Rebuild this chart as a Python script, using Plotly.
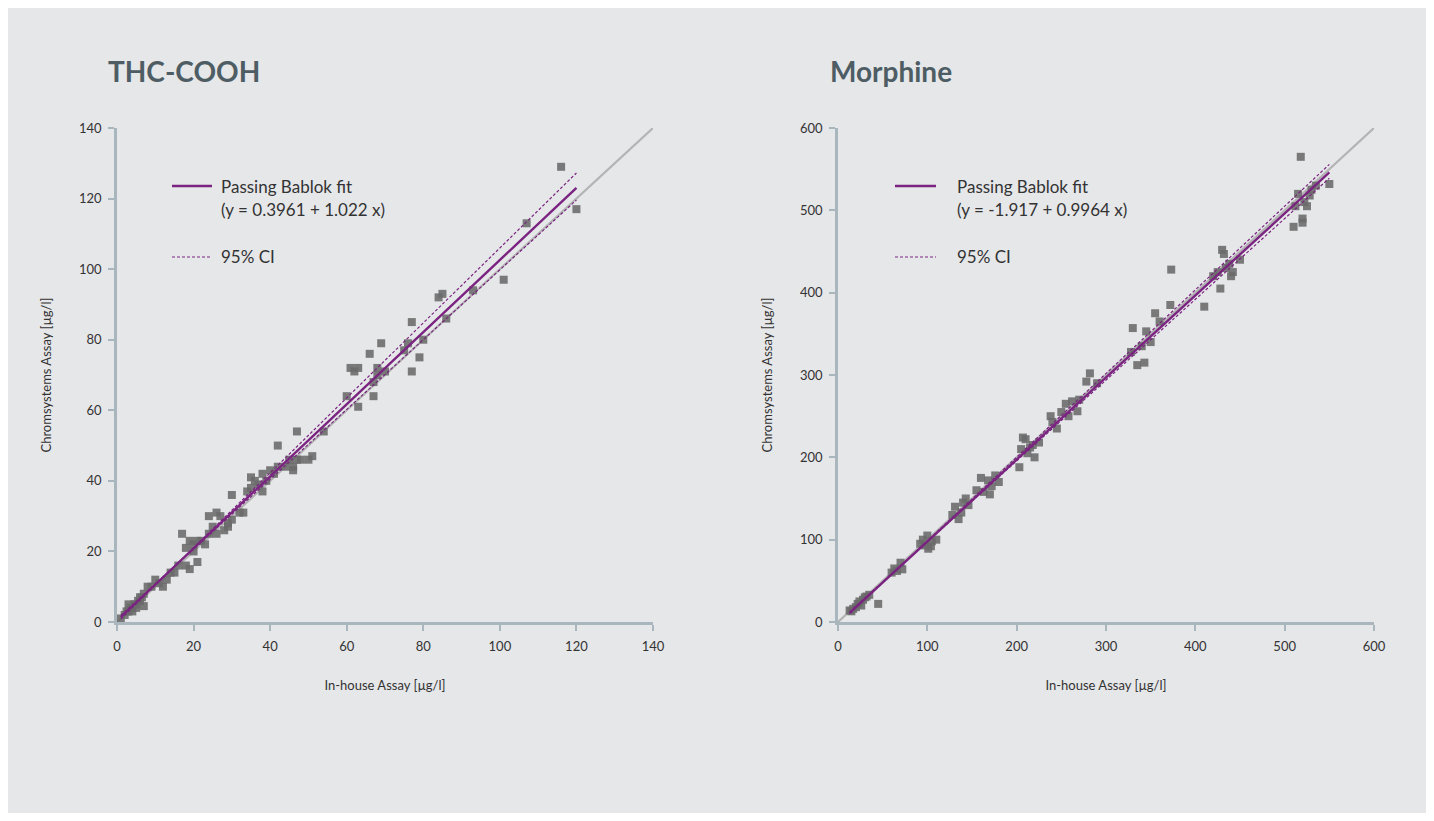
import numpy as np
import plotly.graph_objects as go

# ---------------- data ----------------
thc_x = [1, 2, 2.5, 3, 3, 3.5, 4, 4, 4.5, 5, 5, 5.5, 6, 6, 6.5, 7, 7, 8, 9, 10, 11, 12, 13, 14, 15, 16,
         17, 18, 18, 19, 19, 20, 20, 21, 21, 22, 23, 24, 24, 25, 26, 26, 27, 28, 29, 29, 30, 30, 32, 33,
         34, 35, 35, 36, 37, 38, 38, 39, 40, 41, 42, 42, 44, 45, 46, 46, 47, 47, 48, 50, 51, 54,
         60, 61, 62, 63, 63, 66, 67, 67, 68, 68, 69, 70, 75, 76, 77, 77, 79, 80, 84, 85, 86, 93,
         101, 107, 116, 120]
thc_y = [1, 2, 3, 5, 3, 4, 4, 3, 5, 5, 4, 6, 6, 7, 7, 4.5, 8, 10, 10, 12, 11, 10, 12, 14, 14, 16,
         25, 16, 21, 23, 15, 20, 22, 17, 23, 23, 22, 30, 25, 27, 31, 25, 30, 26, 27, 28, 36, 29, 31, 31,
         37, 38, 41, 40, 39, 42, 37, 40, 43, 42, 50, 44, 44, 46, 44, 43, 46, 54, 46, 46, 47, 54,
         64, 72, 71, 72, 61, 76, 68, 64, 70, 72, 79, 71, 77, 79, 85, 71, 75, 80, 92, 93, 86, 94,
         97, 113, 129, 117]

mor_x = [13, 15, 17, 20, 22, 24, 26, 28, 30, 32, 35, 45,
         60, 63, 66, 70, 72,
         92, 95, 97, 100, 101, 104, 105, 110,
         128, 131, 135, 138, 140, 143, 146,
         155, 160, 163, 168, 170, 172, 176, 180,
         203, 205, 207, 210, 212, 215, 218, 220, 225,
         238, 240, 245, 250, 255, 258, 262, 268, 270,
         278, 282, 290,
         328, 330, 335, 340, 343, 345, 350, 355, 360,
         372, 373,
         410, 420, 425, 428, 430, 432, 434, 438, 440, 442, 450,
         510, 512, 515, 518, 520, 520, 522, 525, 528, 530, 535, 550]
mor_y = [14, 13, 16, 18, 22, 25, 20, 27, 30, 31, 33, 22,
         60, 65, 62, 72, 64,
         95, 100, 93, 105, 89, 92, 98, 100,
         130, 140, 125, 133, 145, 150, 142,
         160, 175, 158, 172, 155, 165, 178, 170,
         188, 210, 224, 222, 205, 212, 215, 200, 218,
         250, 243, 235, 255, 265, 250, 268, 256, 270,
         292, 302, 290,
         328, 357, 312, 335, 315, 353, 340, 375, 365,
         385, 428,
         383, 420, 425, 405, 452, 447, 430, 435, 420, 425, 440,
         480, 505, 520, 565, 490, 485, 510, 505, 518, 525, 530, 532]

# Passing-Bablok fit coefficients (intercept, slope) and CI bounds
thc_fit = (0.3961, 1.022)
thc_ci_hi = (-0.2, 1.062)
thc_ci_lo = (0.9, 0.989)
mor_fit = (-1.917, 0.9964)
mor_ci_hi = (-3.0, 1.016)
mor_ci_lo = (-0.5, 0.981)

thc_ticks = [0, 20, 40, 60, 80, 100, 120, 140]
mor_ticks = [0, 100, 200, 300, 400, 500, 600]
thc_label = "(y = 0.3961 + 1.022 x)"
mor_label = "(y = -1.917 + 0.9964 x)"

# ---------------- style ----------------
BG = "#e6e7e9"
AX = "#a9b6be"
PURPLE = "#7a2380"
GREY_LINE = "#b4b4b4"
MARKER = "#6a6a6a"
FONT = "Lato"

fig = go.Figure()

def add_panel(xs, ys, fit, hi, lo, amax, xa, ya):
    fig.add_trace(go.Scatter(x=[0, amax], y=[0, amax], mode="lines",
                             line=dict(color=GREY_LINE, width=2.2),
                             xaxis=xa, yaxis=ya, showlegend=False, hoverinfo="skip"))
    fig.add_trace(go.Scatter(x=xs, y=ys, mode="markers",
                             marker=dict(symbol="square", size=8, color=MARKER, opacity=0.88,
                                         line=dict(width=0)),
                             xaxis=xa, yaxis=ya, showlegend=False))
    xr = np.array([min(xs), max(xs)], dtype=float)
    for (a, b), dash, w in [(hi, "3px,2px", 1.2), (lo, "3px,2px", 1.2), (fit, "solid", 2.4)]:
        fig.add_trace(go.Scatter(x=xr, y=a + b * xr, mode="lines",
                                 line=dict(color=PURPLE, width=w, dash=dash),
                                 xaxis=xa, yaxis=ya, showlegend=False, hoverinfo="skip"))

add_panel(thc_x, thc_y, thc_fit, thc_ci_hi, thc_ci_lo, 140, "x", "y")
add_panel(mor_x, mor_y, mor_fit, mor_ci_hi, mor_ci_lo, 600, "x2", "y2")

# page body has an 8px margin; compensate
OFF = 8
W, H = 1434 - 2 * OFF, 821 - 2 * OFF
L, T = 117 - OFF, 128 - OFF
pw, ph = 1257, 494
R = W - L - pw
B = H - T - ph

def axis_common():
    return dict(showgrid=False, zeroline=False, showline=True, linecolor=AX, linewidth=2.5,
                ticks="outside", ticklen=6, tickwidth=2, tickcolor=AX,
                tickfont=dict(family=FONT, size=13, color="#333333"),
                title_font=dict(family=FONT, size=13, color="#333333"))

xa = axis_common(); xa.update(domain=[0, 536 / pw], range=[0, 140], tickvals=thc_ticks,
                              title_text="In-house Assay [µg/l]", title_standoff=28,
                              anchor="y", ticklabelstandoff=5)
ya = axis_common(); ya.update(domain=[0, 1], range=[0, 140], tickvals=thc_ticks,
                              title_text="Chromsystems Assay [µg/l]", title_standoff=25,
                              anchor="x", ticklabelstandoff=4)
xa2 = axis_common(); xa2.update(domain=[(838 - 117) / pw, 1], range=[0, 600], tickvals=mor_ticks,
                                title_text="In-house Assay [µg/l]", title_standoff=28,
                                anchor="y2", ticklabelstandoff=5)
ya2 = axis_common(); ya2.update(domain=[0, 1], range=[0, 600], tickvals=mor_ticks,
                                title_text="Chromsystems Assay [µg/l]", title_standoff=25,
                                anchor="x2", ticklabelstandoff=4)

def py(p):  # reference pixel y -> paper y
    return (622 - p) / ph

def px(p):  # reference pixel x -> paper x
    return (p - 117) / pw

shapes = []
annotations = []

def legend(xref, yref, lx0, lx1, tx, label):
    shapes.append(dict(type="line", xref=xref, yref=yref, x0=lx0, x1=lx1,
                       y0=(622 - 186) / 494, y1=(622 - 186) / 494,
                       line=dict(color=PURPLE, width=2.4)))
    shapes.append(dict(type="line", xref=xref, yref=yref, x0=lx0, x1=lx1,
                       y0=(622 - 257) / 494, y1=(622 - 257) / 494,
                       line=dict(color=PURPLE, width=1.2, dash="3px,2px")))
    for txt, yy in [("Passing Bablok fit", 186), (label, 209), ("95% CI", 257)]:
        annotations.append(dict(text=txt, xref=xref, yref=yref, x=tx, y=(622 - yy) / 494,
                                xanchor="left", yanchor="middle", showarrow=False,
                                font=dict(family=FONT, size=17, color="#333333")))

legend("x domain", "y domain", (172 - 117) / 536, (212 - 117) / 536, (219 - 117) / 536, thc_label)
legend("x2 domain", "y2 domain", (895 - 838) / 536, (936 - 838) / 536, (955 - 838) / 536, mor_label)

for txt, xpix in [("THC-COOH", 106), ("Morphine", 828)]:
    annotations.append(dict(text="<b>" + txt + "</b>", xref="paper", yref="paper",
                            x=px(xpix), y=py(71), xanchor="left", yanchor="middle",
                            showarrow=False,
                            font=dict(family=FONT, size=28, color="#4e5d64")))

fig.update_layout(width=W, height=H, margin=dict(l=L, r=R, t=T, b=B, autoexpand=False),
                  paper_bgcolor=BG, plot_bgcolor="rgba(0,0,0,0)",
                  xaxis=xa, yaxis=ya, xaxis2=xa2, yaxis2=ya2,
                  shapes=shapes, annotations=annotations, showlegend=False,
                  font=dict(family=FONT))

fig.write_html("out.html")
